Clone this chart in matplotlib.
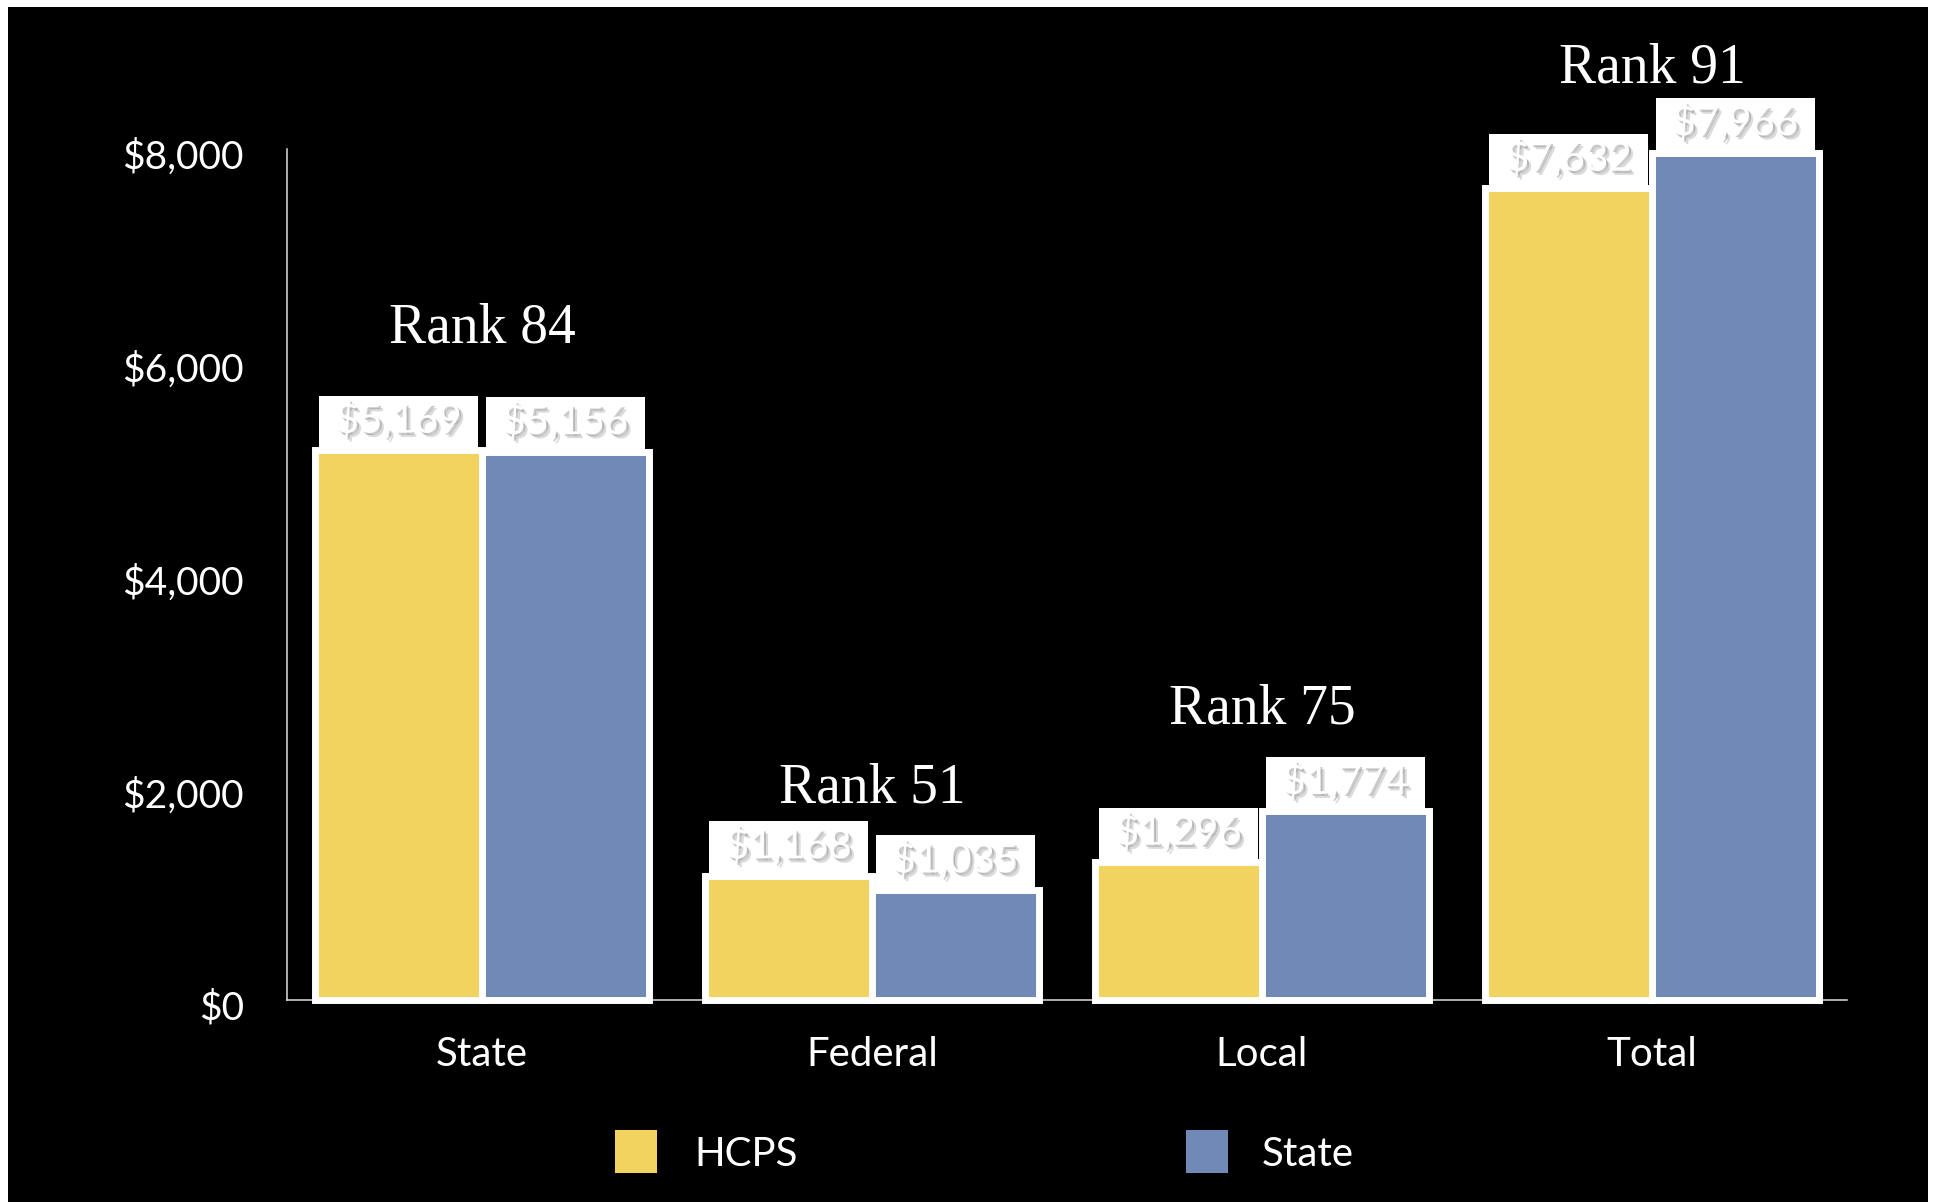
import numpy as np
import matplotlib
matplotlib.use("Agg")
import matplotlib.pyplot as plt
import matplotlib.patheffects as pe
from matplotlib.patches import Rectangle
from matplotlib.transforms import ScaledTranslation

categories = ["State", "Federal", "Local", "Total"]
hcps = [5169, 1168, 1296, 7632]
state = [5156, 1035, 1774, 7966]
ranks = ["Rank 84", "Rank 51", "Rank 75", "Rank 91"]
series_names = ["HCPS", "State"]
yticks = [0, 2000, 4000, 6000, 8000]

yellow = "#F3D35F"
blue = "#7189B6"
W, H = 1937, 1202
sans = "Lato"
serif = "Liberation Serif"

fig = plt.figure(figsize=(W / 100, H / 100), dpi=100)
fig.patch.set_facecolor("white")
fig.add_artist(Rectangle((8 / W, 0), 1920 / W, 1195 / H, transform=fig.transFigure,
                         facecolor="black", edgecolor="none", zorder=0))

ax = fig.add_axes([287 / W, 202 / H, 1560 / W, 851 / H])
ax.set_facecolor("none")
ax.set_xlim(-0.5, 3.5)
ax.set_ylim(0, 8000)

x = np.arange(len(categories))
w = 0.427
bw = 0.408
box_h = 512

for offs, vals, col in [(-w / 2, hcps, yellow), (w / 2, state, blue)]:
    ax.bar(x + offs, vals, w, color=col, edgecolor="white", linewidth=5,
           zorder=3, clip_on=False)
    for xi, v in zip(x + offs, vals):
        ax.add_patch(Rectangle((xi - bw / 2, v), bw, box_h, facecolor="white",
                               edgecolor="none", zorder=2, clip_on=False))
        ax.text(xi, v + box_h * 0.55, "${:,}".format(v), ha="center", va="center",
                color="white", fontsize=29, family=sans, zorder=4, clip_on=False,
                path_effects=[pe.SimplePatchShadow(offset=(3, -3), shadow_rgbFace="0.6", alpha=0.35),
                              pe.SimplePatchShadow(offset=(1.5, -1.5), shadow_rgbFace="0.55", alpha=0.45),
                              pe.Normal()])

# rank labels, lifted above the taller bar of each group (pixels)
rank_lift = [122, 87, 102, 84]
for xi, r, a, b, lift in zip(x, ranks, hcps, state, rank_lift):
    ax.annotate(r, (xi, max(a, b)), xytext=(0, lift * 0.72), textcoords="offset points",
                ha="center", va="center", color="white", fontsize=40, family=serif,
                annotation_clip=False, zorder=5)

for s in ["top", "right"]:
    ax.spines[s].set_visible(False)
for s in ["left", "bottom"]:
    ax.spines[s].set_color("#dddddd")
    ax.spines[s].set_linewidth(1.1)
    ax.spines[s].set_zorder(1)

ax.set_xticks(x, categories)
ax.set_yticks(yticks, ["${:,}".format(t) for t in yticks])
ax.tick_params(axis="both", length=0, colors="white")
ax.tick_params(axis="x", pad=26, labelsize=29)
ax.tick_params(axis="y", pad=31, labelsize=28)
shift = ScaledTranslation(0, -5 / 100, fig.dpi_scale_trans)
for lab in ax.get_yticklabels():
    lab.set_transform(lab.get_transform() + shift)
for lab in ax.get_xticklabels() + ax.get_yticklabels():
    lab.set_family(sans)

# legend
for name, col, sx, tx in [(series_names[0], yellow, 615, 694), (series_names[1], blue, 1186, 1262)]:
    fig.add_artist(Rectangle((sx / W, 1 - 1173 / H), 42 / W, 43 / H, transform=fig.transFigure,
                             facecolor=col, edgecolor="none", zorder=2))
    fig.text(tx / W, 1 - 1155 / H, name, ha="left", va="center", color="white",
             fontsize=29, family=sans)

fig.savefig("out.png", dpi=100, facecolor=fig.get_facecolor())
